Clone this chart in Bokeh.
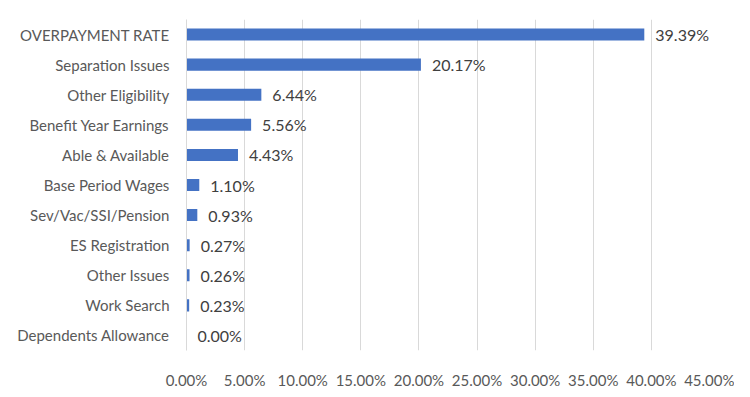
from bokeh.plotting import figure
from bokeh.models import ColumnDataSource, FactorRange, NumeralTickFormatter, FixedTicker
from bokeh.core.properties import value
from bokeh.embed import file_html
from bokeh.resources import INLINE

categories = ["OVERPAYMENT RATE", "Separation Issues", "Other Eligibility", "Benefit Year Earnings",
              "Able & Available", "Base Period Wages", "Sev/Vac/SSI/Pension", "ES Registration",
              "Other Issues", "Work Search", "Dependents Allowance"]
rates = [0.3939, 0.2017, 0.0644, 0.0556, 0.0443, 0.0110, 0.0093, 0.0027, 0.0026, 0.0023, 0.0000]
x_ticks = [0.0, 0.05, 0.10, 0.15, 0.20, 0.25, 0.30, 0.35, 0.40, 0.45]

labels = ["{:.2f}%".format(v * 100) for v in rates]
source = ColumnDataSource(dict(cat=categories, rate=rates, label=labels))

FONT = "Lato"

p = figure(width=734, height=391, output_backend="svg", toolbar_location=None,
           y_range=FactorRange(*list(reversed(categories))), x_range=(0, 0.45),
           min_border_left=186, min_border_right=25, min_border_top=19, min_border_bottom=30)
p.outline_line_color = None

p.hbar(y="cat", right="rate", left=0, height=0.4, source=source, color="#4472C4", line_color=None)
p.text(x="rate", y="cat", text="label", source=source, x_offset=11, text_align="left",
       text_baseline="middle", text_font=value(FONT), text_font_size="16px", text_color="#404040")

p.xaxis.ticker = FixedTicker(ticks=x_ticks)
p.xaxis.formatter = NumeralTickFormatter(format="0.00%")
p.xaxis.axis_line_color = None
p.xaxis.major_tick_line_color = None
p.xaxis.minor_tick_line_color = None
p.xaxis.major_label_standoff = 14
p.xaxis.major_label_text_font = FONT
p.xaxis.major_label_text_font_size = "15px"
p.xaxis.major_label_text_color = "#595959"

p.yaxis.axis_line_color = "#d9d9d9"
p.yaxis.major_tick_line_color = None
p.yaxis.minor_tick_line_color = None
p.yaxis.major_label_standoff = 11
p.yaxis.major_label_text_font = FONT
p.yaxis.major_label_text_font_size = "15px"
p.yaxis.major_label_text_color = "#595959"

p.xgrid.grid_line_color = "#d9d9d9"
p.ygrid.grid_line_color = None
p.y_range.range_padding = 0

open("out.html", "w").write(file_html(p, INLINE))
